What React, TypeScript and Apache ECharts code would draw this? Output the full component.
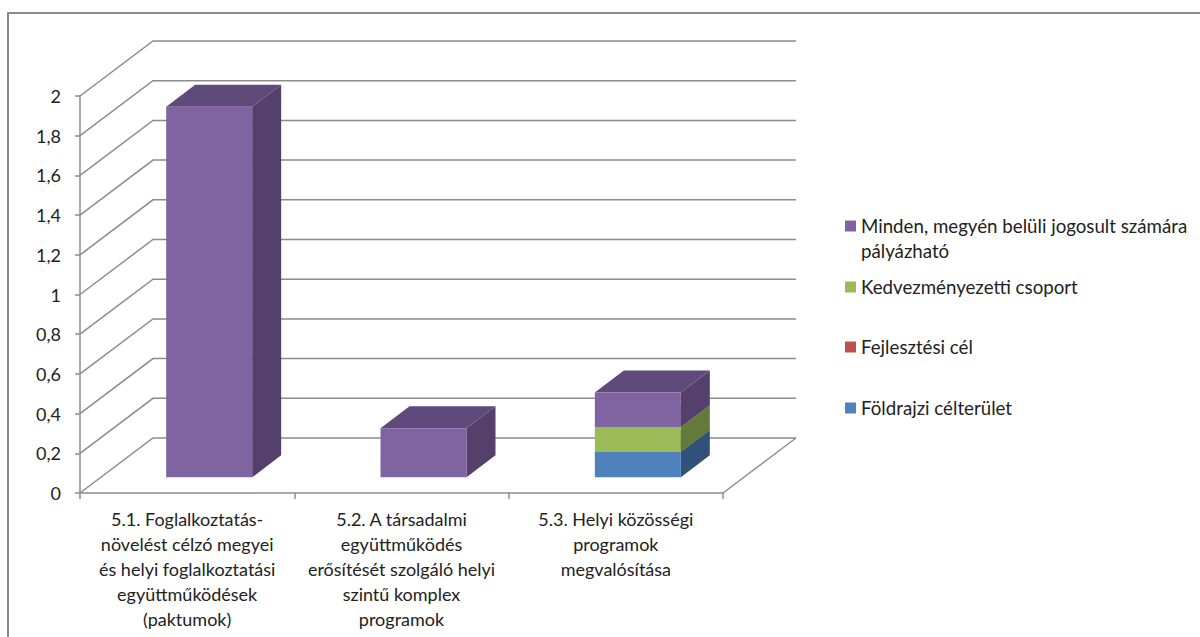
import React, { useEffect, useRef } from "react";
import * as echarts from "echarts";

const categories = [
  "5.1. Foglalkoztatás-\nnövelést célzó megyei\nés helyi foglalkoztatási\negyüttműködések\n(paktumok)",
  "5.2. A társadalmi\negyüttműködés\nerősítését szolgáló helyi\nszintű komplex\nprogramok",
  "5.3. Helyi közösségi\nprogramok\nmegvalósítása",
];
const yTicks = [0, 0.2, 0.4, 0.6, 0.8, 1, 1.2, 1.4, 1.6, 1.8, 2];
const foldrajzi = [0, 0, 0.127];
const fejlesztesi = [0, 0, 0];
const kedvezmenyezetti = [0, 0, 0.127];
const minden = [1.867, 0.247, 0.173];

const FONT = "Lato, Carlito, sans-serif";
const FONT_SIZE = 18;
const WALL = "#8c8c8c";
// Projection of the 3D look, in pixels
const WALL_DX = 73;
const WALL_DY = -55;
const BAR_SHIFT_X = 22;
const BAR_SHIFT_Y = -15.7;
const BAR_W = 86;
const BAR_DX = 29;
const BAR_DY = -22;

const stacks = [
  { name: "Földrajzi célterület", values: foldrajzi, front: "#4F81BD", side: "#30527A", top: "#3A5F8C" },
  { name: "Fejlesztési cél", values: fejlesztesi, front: "#C0504D", side: "#7D3230", top: "#8E3B39" },
  { name: "Kedvezményezetti csoport", values: kedvezmenyezetti, front: "#9BBB59", side: "#647A3A", top: "#728C42" },
  { name: "Minden, megyén belüli jogosult számára pályázható", values: minden, front: "#8064A2", side: "#54406A", top: "#604A7B" },
];

function wallItem(params: any, api: any) {
  const cs = params.coordSys;
  const v = api.value(1);
  const y = api.coord([0, v])[1];
  const x0 = cs.x;
  const x1 = cs.x + cs.width;
  const line = { stroke: WALL, lineWidth: 1.5, fill: "none" };
  const children: any[] = [
    {
      type: "polyline",
      shape: { points: [[x0, y], [x0 + WALL_DX, y + WALL_DY], [x1 + WALL_DX, y + WALL_DY]] },
      style: line,
    },
  ];
  if (v === 0) {
    children.push({
      type: "line",
      shape: { x1: x1, y1: y, x2: x1 + WALL_DX, y2: y + WALL_DY },
      style: line,
    });
  }
  return { type: "group", children };
}

function barItem(stack: any) {
  return (params: any, api: any) => {
    const cat = api.value(0);
    const from = api.value(1);
    const to = api.value(2);
    if (to <= from) return null;
    const bottom = api.coord([cat, from]);
    const topP = api.coord([cat, to]);
    const xl = bottom[0] + BAR_SHIFT_X - BAR_W / 2;
    const xr = xl + BAR_W;
    const yb = bottom[1] + BAR_SHIFT_Y;
    const yt = topP[1] + BAR_SHIFT_Y;
    return {
      type: "group",
      children: [
        {
          type: "polygon",
          shape: { points: [[xr, yb], [xr + BAR_DX, yb + BAR_DY], [xr + BAR_DX, yt + BAR_DY], [xr, yt]] },
          style: { fill: stack.side },
        },
        {
          type: "polygon",
          shape: { points: [[xl, yt], [xr, yt], [xr + BAR_DX, yt + BAR_DY], [xl + BAR_DX, yt + BAR_DY]] },
          style: { fill: stack.top },
        },
        {
          type: "rect",
          shape: { x: xl, y: yt, width: BAR_W, height: yb - yt },
          style: { fill: stack.front },
        },
      ],
    };
  };
}

function legendFor(name: string, top: number, text: (n: string) => string) {
  return {
    show: true,
    data: [name],
    left: 845,
    top,
    padding: 0,
    orient: "vertical",
    icon: "rect",
    itemWidth: 11,
    itemHeight: 11,
    selectedMode: false,
    formatter: text,
    textStyle: { fontFamily: FONT, fontSize: 18.7, color: "#222", lineHeight: 25 },
  };
}

export default function App() {
  const ref = useRef<HTMLDivElement>(null);
  useEffect(() => {
    document.body.style.margin = "0";
    const chart = echarts.init(ref.current!, undefined, { renderer: "svg" });
    const running = categories.map(() => 0);
    const barSeries = stacks.map((s) => {
      const data = s.values.map((v, i) => {
        const start = running[i];
        running[i] = start + v;
        return [i, start, start + v];
      });
      return {
        type: "custom",
        name: s.name,
        coordinateSystem: "cartesian2d",
        clip: false,
        silent: true,
        z: 3,
        itemStyle: { color: s.front },
        encode: { x: 0, y: [1, 2] },
        renderItem: barItem(s),
        data,
      };
    });
    chart.setOption({
      animation: false,
      backgroundColor: "#fff",
      graphic: [
        {
          type: "rect",
          silent: true,
          shape: { x: 8, y: 13, width: 1400, height: 800 },
          style: { fill: "none", stroke: "#8a8a8a", lineWidth: 2 },
        },
      ],
      grid: { left: 80, top: 96, width: 643, height: 397, containLabel: false },
      legend: [
        legendFor(stacks[3].name, 188.5, () => "\nMinden, megyén belüli jogosult számára\npályázható"),
        legendFor(stacks[2].name, 274.5, (n) => n),
        legendFor(stacks[1].name, 334.5, (n) => n),
        legendFor(stacks[0].name, 395.5, (n) => n),
      ],
      xAxis: {
        type: "category",
        data: categories,
        axisLine: { lineStyle: { color: WALL, width: 1.5 } },
        axisTick: { show: true, length: 6, lineStyle: { color: WALL, width: 1.5 } },
        axisLabel: {
          interval: 0,
          margin: 13,
          fontFamily: FONT,
          fontSize: FONT_SIZE,
          lineHeight: 25,
          color: "#222",
          align: "center",
        },
      },
      yAxis: {
        type: "value",
        min: 0,
        max: 2,
        interval: 0.2,
        axisLine: { show: true, lineStyle: { color: WALL, width: 1.5 } },
        axisTick: { show: true, length: 5, lineStyle: { color: WALL, width: 1.5 } },
        splitLine: { show: false },
        axisLabel: {
          margin: 19,
          fontFamily: FONT,
          fontSize: FONT_SIZE,
          color: "#222",
          formatter: (v: number) => String(v).replace(".", ","),
        },
      },
      series: [
        {
          type: "custom",
          name: "walls",
          coordinateSystem: "cartesian2d",
          clip: false,
          silent: true,
          z: 1,
          encode: { x: 0, y: 1 },
          renderItem: wallItem,
          data: yTicks.map((t) => [0, t]),
        },
        ...barSeries,
      ],
    });
    return () => chart.dispose();
  }, []);
  return (
    <div
      ref={ref}
      style={{ position: "fixed", left: 0, top: 0, width: 1200, height: 637, background: "#fff" }}
    />
  );
}
